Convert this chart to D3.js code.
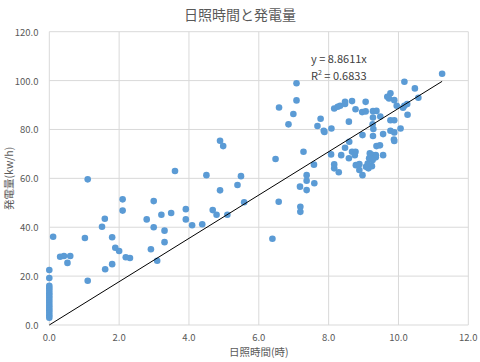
<!DOCTYPE html>
<html>
<head>
<meta charset="utf-8">
<script src="https://cdn.jsdelivr.net/npm/d3@7"></script>
<style>
  body { margin: 0; background: #fff; }
  text { font-family: "Noto Sans CJK JP", "Noto Sans", sans-serif; fill: #595959; }
</style>
</head>
<body>
<div id="chart"></div>
<script>
// 日照時間 (x) and 発電量 (y)
const zeroHours = [22.5, 19.2, 16, 15, 14, 13, 12, 11, 10, 9, 8, 7, 6, 5, 4, 3];
const sunHours = [
  0.11, 0.31, 0.42, 0.52, 0.6, 1.02, 1.1, 1.1, 1.51, 1.59, 1.6, 1.8, 1.8, 1.89, 2.0, 2.1, 2.1, 2.19, 2.31,
  2.79, 2.91, 2.99, 2.99, 3.09, 3.21, 3.3, 3.3, 3.49, 3.6, 3.91, 3.91, 4.09, 4.38, 4.5, 4.68, 4.79, 4.89,
  4.89, 4.98, 5.1, 5.39, 5.49, 5.58, 6.39, 6.48, 6.57, 6.58, 6.85, 6.99, 7.08, 7.08,
  7.18, 7.19, 7.19, 7.28, 7.37, 7.37, 7.37, 7.58, 7.59, 7.68, 7.77, 7.86, 7.88, 8.08, 8.07,
  8.16, 8.26, 8.33, 8.47, 8.47, 8.67, 8.77, 8.58, 8.96, 9.06, 9.06, 9.27, 9.37, 9.48, 9.27, 9.26, 9.28,
  9.77, 9.88, 9.77, 9.88, 9.56, 9.27, 8.97, 9.87, 9.88, 8.59, 8.47, 8.36, 8.67, 8.77, 8.75, 8.58, 8.16,
  8.16, 8.29, 8.78, 8.88, 8.88, 8.97, 9.07, 9.14, 9.24, 9.12, 9.18, 9.27, 9.35, 9.16, 9.35, 9.26, 9.37,
  9.47, 9.56,
  9.77, 9.68, 9.73, 9.88, 9.95, 10.17, 10.25, 10.13, 10.26, 10.06, 10.17, 10.47, 10.57, 11.25
];
const power = [
  36.1, 27.9, 28.2, 25.4, 28.2, 35.6, 18.1, 59.6, 40.2, 43.5, 22.8, 35.9, 24.9, 31.6, 30.3, 51.4, 46.8, 27.7, 27.4,
  43.2, 31.0, 50.7, 40.0, 26.3, 45.1, 38.6, 33.9, 45.8, 63.0, 47.4, 43.2, 40.8, 41.2, 61.3, 47.0, 45.1, 55.1,
  75.4, 73.2, 45.1, 57.3, 60.9, 50.2, 35.3, 67.9, 50.4, 89.0, 82.1, 86.3, 91.9, 98.9,
  56.6, 48.4, 46.3, 70.9, 61.3, 59.0, 55.2, 65.6, 58.0, 81.4, 84.4, 79.5, 79.0, 80.4, 69.8,
  88.6, 89.3, 89.7, 91.3, 90.4, 91.6, 88.3, 83.2, 87.1, 87.4, 91.3, 87.5, 87.6, 85.3, 84.9, 82.1, 80.2,
  83.8, 83.8, 79.5, 78.8, 78.1, 77.3, 77.7, 75.9, 75.3, 75.0, 72.5, 69.5, 70.9, 70.9, 69.5, 68.2, 65.7,
  64.1, 62.5, 65.4, 65.8, 63.4, 61.3, 64.7, 64.1, 65.0, 66.1, 70.2, 69.5, 69.5, 68.2, 68.6, 67.5, 73.2,
  73.5, 69.5,
  94.8, 93.4, 92.7, 92.0, 89.7, 89.7, 90.4, 88.9, 86.0, 80.4, 99.5, 96.8, 93.0, 102.8
];
const slope = 8.8611;
const xTicks = [0, 2, 4, 6, 8, 10, 12];
const yTicks = [0, 20, 40, 60, 80, 100, 120];

const points = zeroHours.map(v => [0, v]).concat(sunHours.map((hr, i) => [hr, power[i]]));

const w = 480;
const h = 362;
const plotLeft = 49.3, plotRight = 468.3, plotTop = 31.7, plotBottom = 325;

const svg = d3.select("#chart")
  .append("svg")
  .attr("width", w)
  .attr("height", h);

const x = d3.scaleLinear().domain([0, 12]).range([plotLeft, plotRight]);
const y = d3.scaleLinear().domain([0, 120]).range([plotBottom, plotTop]);

// gridlines
svg.append("g").selectAll("line").data(xTicks).enter().append("line")
  .attr("x1", d => x(d)).attr("x2", d => x(d))
  .attr("y1", plotTop).attr("y2", plotBottom)
  .attr("stroke", "#d9d9d9").attr("stroke-width", 1);
svg.append("g").selectAll("line").data(yTicks).enter().append("line")
  .attr("x1", plotLeft).attr("x2", plotRight)
  .attr("y1", d => y(d)).attr("y2", d => y(d))
  .attr("stroke", "#d9d9d9").attr("stroke-width", 1);

// tick labels
svg.append("g").selectAll("text").data(xTicks).enter().append("text")
  .attr("x", d => x(d)).attr("y", 337)
  .attr("text-anchor", "middle").attr("dominant-baseline", "central")
  .style("font-size", "9.5px")
  .text(d => d.toFixed(1));
svg.append("g").selectAll("text").data(yTicks).enter().append("text")
  .attr("x", 38.5).attr("y", d => y(d))
  .attr("text-anchor", "end").attr("dominant-baseline", "central")
  .style("font-size", "9.5px")
  .text(d => d.toFixed(1));

// points
svg.append("g").selectAll("circle").data(points).enter().append("circle")
  .attr("cx", d => x(d[0])).attr("cy", d => y(d[1]))
  .attr("r", 3.3)
  .attr("fill", "#5b9bd5");

// trendline through origin
const xMax = d3.max(points, d => d[0]);
svg.append("line")
  .attr("x1", x(0)).attr("y1", y(0))
  .attr("x2", x(xMax)).attr("y2", y(slope * xMax))
  .attr("stroke", "#000").attr("stroke-width", 1);

// trendline label
svg.append("text").attr("x", 311).attr("y", 58)
  .attr("dominant-baseline", "central").style("font-size", "11px").style("fill", "#404040")
  .text("y = " + slope + "x");
const r2 = svg.append("text").attr("x", 311).attr("y", 75)
  .attr("dominant-baseline", "central").style("font-size", "11px").style("fill", "#404040");
r2.append("tspan").text("R");
r2.append("tspan").attr("dy", -3).style("font-size", "7px").text("2");
r2.append("tspan").attr("dy", 3).text(" = 0.6833");

// titles
svg.append("text").attr("x", 240).attr("y", 13.5)
  .attr("text-anchor", "middle").attr("dominant-baseline", "central")
  .style("font-size", "14px")
  .text("日照時間と発電量");
svg.append("text").attr("x", 258.8).attr("y", 351)
  .attr("text-anchor", "middle").attr("dominant-baseline", "central")
  .style("font-size", "10.5px")
  .text("日照時間(時)");
svg.append("text")
  .attr("transform", `translate(8,${(plotTop + plotBottom) / 2}) rotate(-90)`)
  .attr("text-anchor", "middle").attr("dominant-baseline", "central")
  .style("font-size", "10.5px")
  .text("発電量(kw/h)");
</script>
</body>
</html>
